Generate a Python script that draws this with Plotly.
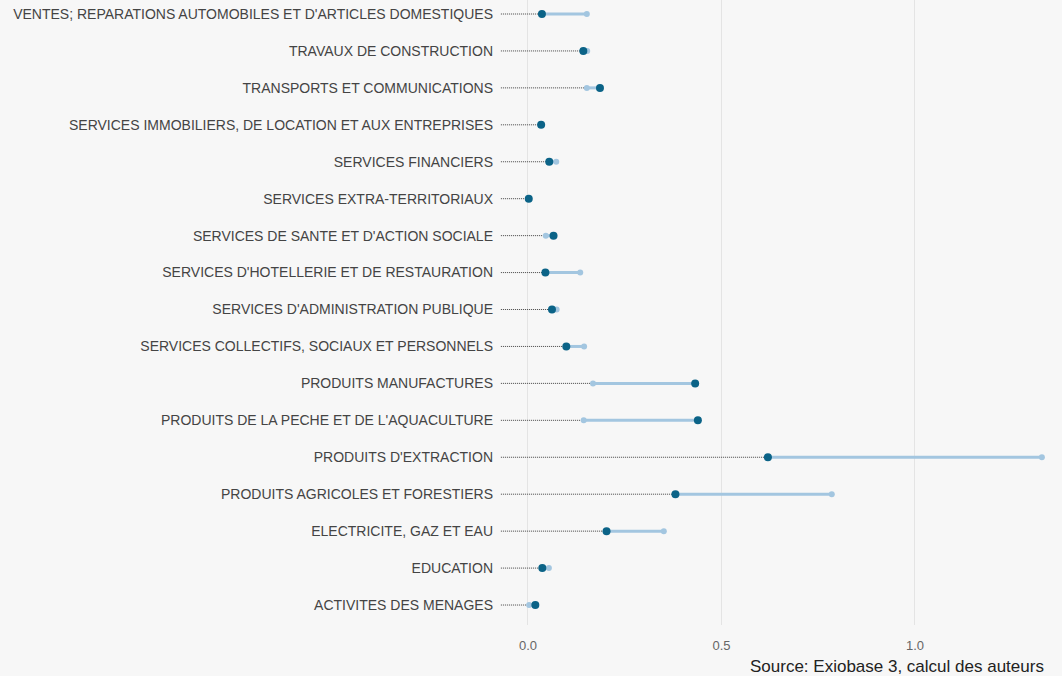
import plotly.graph_objects as go

# secteurs, du bas vers le haut
secteurs = [
    "ACTIVITES DES MENAGES",
    "EDUCATION",
    "ELECTRICITE, GAZ ET EAU",
    "PRODUITS AGRICOLES ET FORESTIERS",
    "PRODUITS D'EXTRACTION",
    "PRODUITS DE LA PECHE ET DE L'AQUACULTURE",
    "PRODUITS MANUFACTURES",
    "SERVICES COLLECTIFS, SOCIAUX ET PERSONNELS",
    "SERVICES D'ADMINISTRATION PUBLIQUE",
    "SERVICES D'HOTELLERIE ET DE RESTAURATION",
    "SERVICES DE SANTE ET D'ACTION SOCIALE",
    "SERVICES EXTRA-TERRITORIAUX",
    "SERVICES FINANCIERS",
    "SERVICES IMMOBILIERS, DE LOCATION ET AUX ENTREPRISES",
    "TRANSPORTS ET COMMUNICATIONS",
    "TRAVAUX DE CONSTRUCTION",
    "VENTES; REPARATIONS AUTOMOBILES ET D'ARTICLES DOMESTIQUES",
]
valeur_fonce = [0.019, 0.037, 0.203, 0.381, 0.620, 0.439, 0.432, 0.099, 0.062,
                0.045, 0.066, 0.002, 0.055, 0.034, 0.186, 0.143, 0.036]
valeur_clair = [0.003, 0.054, 0.351, 0.785, 1.328, 0.144, 0.168, 0.145, 0.074,
                0.135, 0.046, 0.001, 0.073, 0.033, 0.152, 0.153, 0.152]

depart = -0.07
FONCE = "#0b6387"
CLAIR = "#a3c6e0"
FOND = "#f7f7f7"

# pointillés du bord gauche jusqu'au premier point, trait clair entre les deux
dx, dy, sx, sy = [], [], [], []
for s, a, b in zip(secteurs, valeur_fonce, valeur_clair):
    dx += [depart, min(a, b), None]
    dy += [s, s, None]
    sx += [a, b, None]
    sy += [s, s, None]

fig = go.Figure()
fig.add_trace(go.Scatter(x=dx, y=dy, mode="lines",
                         line=dict(color="#444444", width=1, dash="1px,1px"),
                         hoverinfo="skip", showlegend=False))
fig.add_trace(go.Scatter(x=sx, y=sy, mode="lines",
                         line=dict(color=CLAIR, width=3),
                         hoverinfo="skip", showlegend=False))
fig.add_trace(go.Scatter(x=valeur_clair, y=secteurs, mode="markers",
                         marker=dict(color=CLAIR, size=6), showlegend=False))
fig.add_trace(go.Scatter(x=valeur_fonce, y=secteurs, mode="markers",
                         marker=dict(color=FONCE, size=8), showlegend=False))

fig.update_layout(
    width=1062, height=676,
    margin=dict(l=498, r=0, t=0, b=51),
    paper_bgcolor=FOND, plot_bgcolor=FOND,
    font=dict(family="Liberation Sans, Arial, sans-serif", color="#444444"),
    xaxis=dict(range=[-0.0775, 1.38], tickvals=[0, 0.5, 1.0],
               ticktext=["0.0", "0.5", "1.0"], showgrid=True,
               gridcolor="#e4e4e4", gridwidth=1, zeroline=False,
               showline=False, ticks="", tickfont=dict(size=13, color="#666666"),
               ticklabelstandoff=11),
    yaxis=dict(type="category", categoryorder="array", categoryarray=secteurs,
               range=[-0.541, 16.379], showgrid=False, zeroline=False,
               ticks="", tickfont=dict(size=14, color="#444444"),
               ticklabelstandoff=4),
    annotations=[dict(text="Source: Exiobase 3, calcul des auteurs",
                      xref="paper", yref="paper", x=(748 - 498) / 564, y=-0.066,
                      xanchor="left", yanchor="middle", showarrow=False,
                      font=dict(size=17, color="#222222"))],
)

fig.write_html("out.html", config={"displayModeBar": False}, post_script=(
    "document.body.style.margin='0';"
    "document.body.style.background='%s';" % FOND))
